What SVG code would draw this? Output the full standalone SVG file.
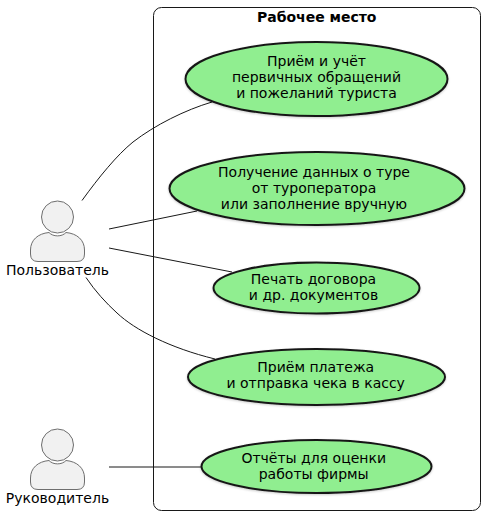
<svg xmlns="http://www.w3.org/2000/svg" width="485" height="515" viewBox="0 0 485 515">
<style>
text{font-family:"DejaVu Sans",sans-serif;font-size:14px;fill:#000;text-anchor:middle}
.t{font-weight:bold}
.u{fill:#90EE90;stroke:#181818;stroke-width:2}
.a{fill:#F1F1F1;stroke:#6e6e6e;stroke-width:1}
.c{fill:none;stroke:#181818;stroke-width:1}
</style>
<defs>
<filter id="s" x="-10%" y="-10%" width="120%" height="125%"><feDropShadow dx="0" dy="1" stdDeviation="1" flood-color="#000" flood-opacity="0.2"/></filter>
<path id="body" d="M30.500,250 C30.500,240 38,233.500 49,232.500 C53,237 62,237 66,232.500 C77,233.500 84.500,240 84.500,250 L84.500,254 Q84.500,261.500 77,261.500 L38,261.500 Q30.500,261.500 30.500,254 Z"/>
</defs>
<rect id="boundary" x="153.500" y="7.500" width="327" height="503" rx="8" ry="8" fill="#fff" stroke="#181818" stroke-width="1"/>
<text class="t" x="316.700" y="22">Рабочее место</text>
<g id="connectors">
<path class="c" d="M82,200.500 C99,177 117,155 133,142 C155,125 185,110 212,102"/>
<path class="c" d="M109,229 L197,211"/>
<path class="c" d="M109,248 L232,272"/>
<path class="c" d="M86,277.500 C95,291 106,303 117,313 C135,330 170,348 215,359"/>
<path class="c" d="M109,467 L201,467"/>
</g>
<g id="uc1"><ellipse class="u" filter="url(#s)" cx="316.500" cy="79" rx="131" ry="37"/><text x="316.500" y="66">Приём и учёт</text><text x="316.500" y="82">первичных обращений</text><text x="316.500" y="98">и пожеланий туриста</text></g>
<g id="uc2"><ellipse class="u" filter="url(#s)" cx="317" cy="188.500" rx="147.500" ry="36.500"/><text x="314" y="177">Получение данных о туре</text><text x="314" y="193">от туроператора</text><text x="314" y="209">или заполнение вручную</text></g>
<g id="uc3"><ellipse class="u" filter="url(#s)" cx="316.500" cy="288" rx="103" ry="25.500"/><text x="313.500" y="284">Печать договора</text><text x="313.500" y="300">и др. документов</text></g>
<g id="uc4"><ellipse class="u" filter="url(#s)" cx="316.500" cy="377" rx="128.500" ry="28"/><text x="315.700" y="372">Приём платежа</text><text x="315.700" y="388">и отправка чека в кассу</text></g>
<g id="uc5"><ellipse class="u" filter="url(#s)" cx="316.500" cy="466.500" rx="115" ry="26.500"/><text x="313.700" y="463">Отчёты для оценки</text><text x="313.700" y="479">работы фирмы</text></g>
<g id="actor1"><circle class="a" cx="57.500" cy="217" r="16"/><use href="#body" class="a"/><text x="57.500" y="275">Пользователь</text></g>
<g id="actor2"><circle class="a" cx="57.500" cy="445" r="16"/><use href="#body" class="a" y="228"/><text x="57.500" y="503">Руководитель</text></g>
</svg>
